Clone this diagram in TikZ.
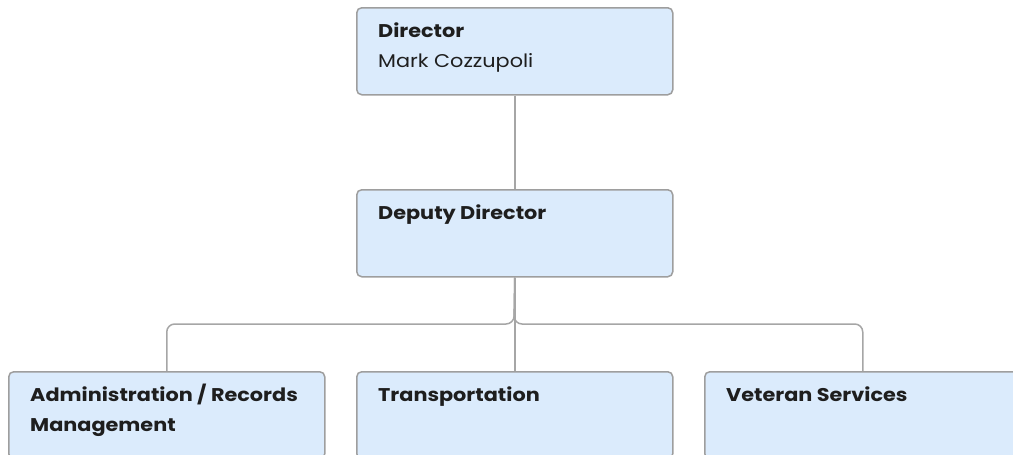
\documentclass[tikz,border=0pt]{standalone}
\usepackage{fontspec}
\setmainfont{Poppins}[FakeStretch=1.13]
\begin{document}
\begin{tikzpicture}[x=1pt,y=-1pt,
  orgbox/.style={draw=boxline, fill=boxfill, line width=1.5pt, rounded corners=5pt,
    minimum width=316pt, minimum height=87pt, inner sep=0pt, anchor=north west},
  title/.style={anchor=base west, inner sep=0pt, text=ink, font=\fontsize{18.4}{30}\selectfont\bfseries, align=left},
  sub/.style={anchor=base west, inner sep=0pt, text=ink, font=\fontsize{18.4}{30}\selectfont},
  link/.style={draw=wire, line width=1.5pt, rounded corners=8pt}]
\definecolor{boxfill}{HTML}{DBEBFC}
\definecolor{boxline}{HTML}{9E9E9E}
\definecolor{wire}{HTML}{A6A6A6}
\definecolor{ink}{HTML}{1E1E1E}
\useasboundingbox (0,0) rectangle (1013,455);
\begin{scope}
\clip (0,0) rectangle (1013,455);
% chain of command
\node[orgbox] (dir) at (356,7) {};
\node[orgbox] (dep) at (356,189) {};
\node[orgbox] (adm) at (8,371) {};
\node[orgbox] (trn) at (356,371) {};
\node[orgbox] (vet) at (704,371) {};
% labels
\node[title] (dirT) at (378,37) {Director};
\node[sub] (dirN) at (378,67) {Mark Cozzupoli};
\node[title] (depT) at (378,219) {Deputy Director};
\node[title] (admT) at (30,401) {Administration / Records};
\node[title] (admT2) at (30,431) {Management};
\node[title] (trnT) at (378,401) {Transportation};
\node[title] (vetT) at (726,401) {Veteran Services};
% connectors
\coordinate (bus) at (514,324);
\draw[link] (dir.south) -- (dep.north);
\draw[link] (dep.south) -- (bus) -| (adm.north);
\draw[link] (dep.south) -- (bus) -| (vet.north);
\draw[link] (dep.south) -- (trn.north);
\end{scope}
\end{tikzpicture}
\end{document}
